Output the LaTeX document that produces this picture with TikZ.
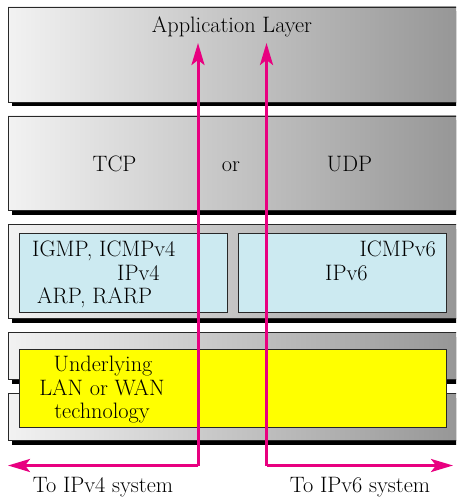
\documentclass[tikz,border=0pt]{standalone}
\usetikzlibrary{arrows.meta,shadows}
\definecolor{glight}{RGB}{242,242,242}
\definecolor{gdark}{RGB}{150,150,150}
\definecolor{ipblue}{RGB}{204,234,241}
\definecolor{hotpink}{RGB}{232,0,128}
\definecolor{edgegray}{RGB}{40,40,40}
\definecolor{lanyellow}{RGB}{255,255,0}
\begin{document}
\begin{tikzpicture}[x=1pt,y=-1pt,
  layer/.style={draw=edgegray,line width=0.8pt,left color=glight,right color=gdark,
    minimum width=452pt,inner sep=0pt,
    drop shadow={shadow xshift=4pt,shadow yshift=-4.5pt,fill=black,opacity=1}},
  protobox/.style={draw=edgegray,line width=0.8pt,fill=ipblue,minimum width=208pt,minimum height=79pt,inner sep=0pt},
  lanbox/.style={draw=edgegray,line width=0.8pt,fill=lanyellow,minimum width=427pt,minimum height=78.5pt,inner sep=0pt},
  lbl/.style={font=\fontsize{22.3}{26}\selectfont,inner sep=0pt},
  flow/.style={draw=hotpink,line width=3pt,-{Stealth[length=22pt,width=13pt,inset=5pt]}}]
\useasboundingbox (0,0) rectangle (456,497);
\begin{scope}
\clip (0,0) rectangle (456,497);
\node[layer,minimum height=95pt] (app) at (234,54.5) {};
\node[layer,minimum height=94.5pt] (trans) at (234,163.25) {};
\node[layer,minimum height=94pt] (net) at (234,271) {};
\node[layer,minimum height=47pt] (dla) at (234,355.5) {};
\node[layer,minimum height=47pt] (dlb) at (234,416.5) {};
\end{scope}
\node[protobox] (v4) at (123,272.5) {};
\node[protobox] (v6) at (342,272.5) {};
\node[lanbox] (lan) at (232.5,388.25) {};
% texts
\node[lbl,anchor=base] (tapp) at (232,32.3) {Application Layer};
\node[lbl,anchor=base] (ttcp) at (114.5,171.7) {TCP};
\node[lbl,anchor=base] (tor) at (231,171.7) {or};
\node[lbl,anchor=base] (tudp) at (349.5,171.7) {UDP};
\node[lbl,anchor=base west] (tigmp) at (32,256.7) {IGMP, ICMPv4};
\node[lbl,anchor=base west] (tipv4) at (117,280.7) {IPv4};
\node[lbl,anchor=base west] (tarp) at (37,303.5) {ARP, RARP};
\node[lbl,anchor=base east] (ticmp6) at (436,256.7) {ICMPv6};
\node[lbl,anchor=base west] (tipv6) at (325,280.7) {IPv6};
\node[lbl,anchor=base] (tund) at (103,371.7) {Underlying};
\node[lbl,anchor=base] (tlan) at (102,395.5) {LAN or WAN};
\node[lbl,anchor=base] (ttech) at (102,418.7) {technology};
\node[lbl,anchor=base] (tto4) at (103,492.7) {To IPv4 system};
\node[lbl,anchor=base] (tto6) at (360,492.7) {To IPv6 system};
% flows
\coordinate (top4) at (198,43);
\coordinate (top6) at (266.5,43);
\coordinate (c4) at (198,465.5);
\coordinate (c6) at (266.5,465.5);
\coordinate (end4) at (8,465.5);
\coordinate (end6) at (453,465.5);
\draw[flow] (c4) -- (top4);
\draw[flow] (c6) -- (top6);
\draw[flow] (c4) -- (end4);
\draw[flow] (c6) -- (end6);
\end{tikzpicture}
\end{document}
